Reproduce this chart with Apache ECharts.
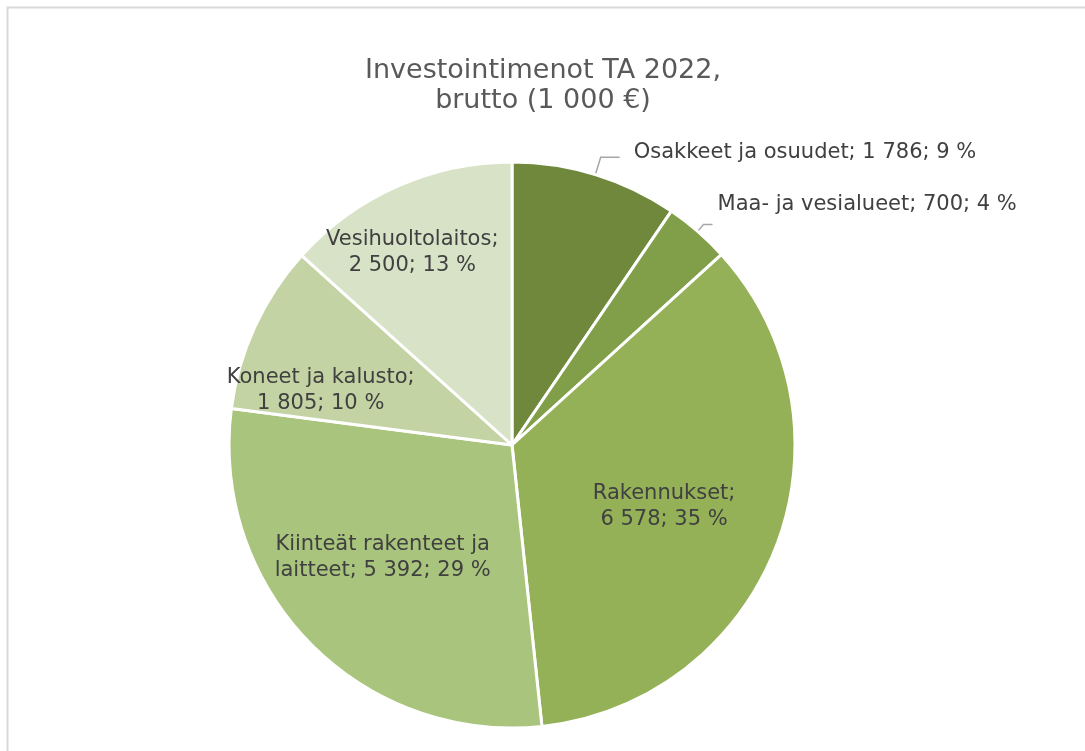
<!DOCTYPE html>
<html>
<head>
<meta charset="utf-8">
<script src="https://cdn.jsdelivr.net/npm/echarts@6/dist/echarts.min.js"></script>
<style>
  html, body { margin: 0; padding: 0; background: #fff; }
  #main { width: 1085px; height: 751px; }
</style>
</head>
<body>
<div id="main"></div>
<script>
// data
const categories = ["Osakkeet ja osuudet", "Maa- ja vesialueet", "Rakennukset", "Kiinteät rakenteet ja laitteet", "Koneet ja kalusto", "Vesihuoltolaitos"];
const values = [1786, 700, 6578, 5392, 1805, 2500];
const percents = [9, 4, 35, 29, 10, 13];
const valueLabels = ["1 786", "700", "6 578", "5 392", "1 805", "2 500"];
const colors = ["#70883c", "#809f48", "#95b157", "#a9c47c", "#c3d3a3", "#d8e2c7"];

let myChart = echarts.init(document.getElementById("main"));

const font = "DejaVu Sans";
const outsideText = (i) => categories[i] + "; " + valueLabels[i] + "; " + percents[i] + " %";
const insideText = {
  2: "Rakennukset;\n" + valueLabels[2] + "; " + percents[2] + " %",
  3: "Kiinteät rakenteet ja\nlaitteet; " + valueLabels[3] + "; " + percents[3] + " %",
  4: "Koneet ja kalusto;\n" + valueLabels[4] + "; " + percents[4] + " %",
  5: "Vesihuoltolaitos;\n" + valueLabels[5] + "; " + percents[5] + " %",
};
// label placement tweaks (Excel "best fit" style)
const insideOffsets = { 2: [17, 10], 3: [-26, 12], 4: [-60, 6], 5: [-41, -60] };
const outsideLines = {
  0: { length: 18, length2: 19, gap: 14, dy: -5 },
  1: { length: 9, length2: 9, gap: 5, dy: -20 },
};

const seriesData = values.map((v, i) => {
  const item = { name: categories[i], value: v, itemStyle: { color: colors[i] } };
  if (i < 2) {
    const o = outsideLines[i];
    item.label = {
      position: "outside",
      formatter: outsideText(i),
      distanceToLabelLine: o.gap,
    };
    item.labelLine = { show: true, length: o.length, length2: o.length2 };
  } else {
    item.label = { position: "inside", formatter: insideText[i], offset: insideOffsets[i] };
    item.labelLine = { show: false };
  }
  return item;
});

myChart.setOption({
  animation: false,
  title: {
    text: "Investointimenot TA 2022,\nbrutto (1 000 €)",
    left: 538,
    top: 51,
    textAlign: "center",
    textStyle: {
      fontFamily: font,
      fontSize: 27,
      fontWeight: "normal",
      color: "#595959",
      lineHeight: 30,
    },
  },
  graphic: [
    {
      type: "rect",
      shape: { x: 7.5, y: 7.5, width: 1200, height: 900 },
      style: { fill: "none", stroke: "#d9d9d9", lineWidth: 2 },
      silent: true,
    },
  ],
  series: [
    {
      type: "pie",
      center: [512, 445],
      radius: 283,
      startAngle: 90,
      clockwise: true,
      avoidLabelOverlap: false,
      data: seriesData,
      itemStyle: { borderColor: "#fff", borderWidth: 3 },
      label: {
        fontFamily: font,
        fontSize: 21,
        color: "#404040",
        lineHeight: 26,
        align: "center",
      },
      labelLine: {
        lineStyle: { color: "#a6a6a6", width: 1.5 },
      },
      labelLayout: function (params) {
        const o = outsideLines[params.dataIndex];
        return o ? { dy: o.dy } : {};
      },
      emphasis: { disabled: true },
    },
  ],
});
</script>
</body>
</html>
